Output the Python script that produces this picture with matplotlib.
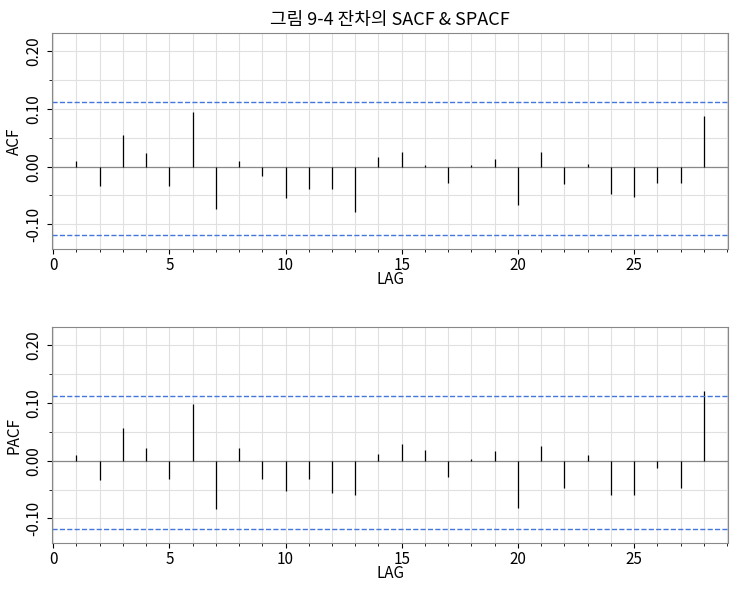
import numpy as np
import matplotlib.pyplot as plt

plt.rcParams['font.family'] = ['Noto Sans CJK KR', 'DejaVu Sans']

lags = list(range(1, 29))
acf = [0.010, -0.033, 0.054, 0.023, -0.033, 0.095, -0.074, 0.010, -0.016, -0.054,
       -0.039, -0.039, -0.079, 0.016, 0.025, 0.003, -0.028, 0.003, 0.014, -0.067,
       0.025, -0.030, 0.005, -0.047, -0.053, -0.028, -0.028, 0.088]
pacf = [0.010, -0.033, 0.057, 0.022, -0.031, 0.098, -0.083, 0.022, -0.031, -0.053,
        -0.031, -0.055, -0.060, 0.012, 0.029, 0.019, -0.028, 0.003, 0.017, -0.081,
        0.026, -0.048, 0.010, -0.059, -0.060, -0.012, -0.047, 0.121]
conf_upper = 0.112
conf_lower = -0.118

fig, axes = plt.subplots(2, 1, figsize=(7.43, 5.97), dpi=100)
fig.subplots_adjust(left=0.07, right=0.98, top=0.945, bottom=0.09, hspace=0.36)

for ax, vals, lab in [(axes[0], acf, "ACF"), (axes[1], pacf, "PACF")]:
    ax.set_xlim(-0.05, 29.05)
    ax.set_ylim(-0.143, 0.232)
    ax.set_xticks(range(0, 30, 5))
    ax.set_xticks(range(0, 30), minor=True)
    ax.set_yticks([-0.1, 0.0, 0.1, 0.2])
    ax.set_yticklabels(["-0.10", "0.00", "0.10", "0.20"], rotation=90, va="center")
    ax.set_yticks([-0.05, 0.05, 0.15], minor=True)
    ax.grid(True, which="both", color="#e0e0e0", linewidth=0.8)
    ax.set_axisbelow(True)
    ax.axhline(0, color="#888888", linewidth=0.9)
    ax.vlines(lags, 0, vals, color="black", linewidth=0.9)
    ax.axhline(conf_upper, color="#4477dd", linestyle="--", linewidth=1)
    ax.axhline(conf_lower, color="#4477dd", linestyle="--", linewidth=1)
    ax.set_ylabel(lab, fontsize=11, labelpad=2)
    ax.set_xlabel("LAG", fontsize=11, labelpad=-2)
    ax.tick_params(labelsize=11)
    ax.tick_params(axis="x", pad=2)
    for s in ax.spines.values():
        s.set_color("#888888")

axes[0].set_title("그림 9-4 잔차의 SACF & SPACF", fontsize=13)
fig.savefig("out.png")
